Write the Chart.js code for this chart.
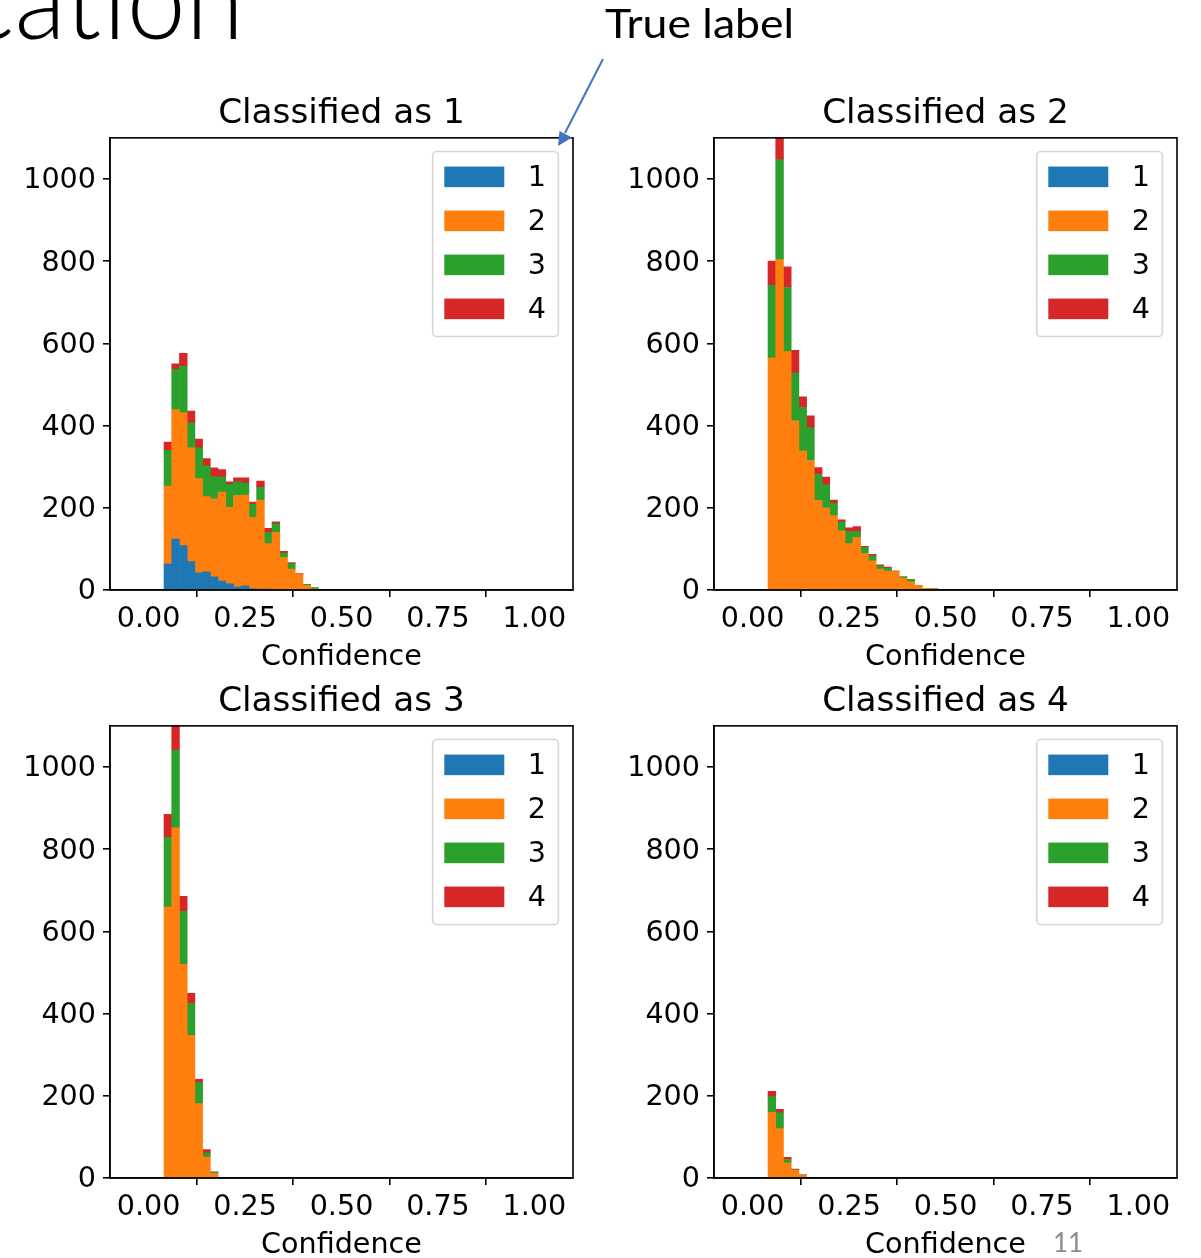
<!DOCTYPE html>
<html>
<head>
<meta charset="utf-8">
<script src="https://cdn.jsdelivr.net/npm/chart.js@4.4.1/dist/chart.umd.min.js"></script>
<style>
html, body { margin: 0; padding: 0; background: #fff; overflow: hidden; }
body { width: 1201px; height: 1258px; position: relative; }
canvas { position: absolute; }
#notes { position: absolute; left: 0; top: 0; pointer-events: none; }
</style>
</head>
<body>
<canvas id="chart1" width="600" height="600" style="left:0;top:80px"></canvas>
<canvas id="chart2" width="600" height="600" style="left:604px;top:80px"></canvas>
<canvas id="chart3" width="600" height="600" style="left:0;top:668px"></canvas>
<canvas id="chart4" width="600" height="600" style="left:604px;top:668px"></canvas>

<svg id="notes" width="1201" height="1258">
  <text x="-352" y="39" font-family="Lato" font-weight="300" font-size="112" textLength="596" lengthAdjust="spacingAndGlyphs" fill="#000">Classification</text>
  <text x="605" y="38" font-family="Lato" font-size="40" textLength="189" lengthAdjust="spacingAndGlyphs" fill="#000">True label</text>
  <line x1="603" y1="59" x2="565" y2="133" stroke="#4472c4" stroke-width="2"/>
  <polygon points="558,146 559.5,131 572,137.5" fill="#4472c4"/>
  <text x="1053" y="1252" font-family="Lato" font-size="26" fill="#8c8c8c">11</text>
</svg>

<script>
console.log("Confidence histograms running");

const FONT = "'DejaVu Sans', sans-serif";

const classLabels = ["1", "2", "3", "4"];
const classColors = ["#1f77b4", "#ff7f0e", "#2ca02c", "#d62728"];

// histogram bins of width 0.02, starting at 0.04
const binCenters = [0.05, 0.07, 0.09, 0.11, 0.13, 0.15, 0.17, 0.19, 0.21, 0.23, 0.25,
                    0.27, 0.29, 0.31, 0.33, 0.35, 0.37, 0.39, 0.41, 0.43, 0.45, 0.47];

const xTicks = [0, 0.25, 0.5, 0.75, 1.0];
const yTicks = [0, 200, 400, 600, 800, 1000];

// Classified as 1 (counts per true label, stacked)
const c1True1 = [63, 124, 108, 69, 42, 44, 32, 22, 15, 7, 10, 3, 2, 1, 0, 0, 0, 0, 0, 0];
const c1True2 = [190, 315, 323, 277, 229, 183, 190, 216, 186, 223, 221, 174, 217, 112, 140, 79, 51, 38, 11, 2];
const c1True3 = [87, 98, 114, 61, 75, 75, 54, 37, 56, 33, 29, 32, 31, 27, 21, 11, 13, 0, 3, 3];
const c1True4 = [20, 13, 31, 28, 21, 18, 21, 18, 6, 10, 13, 5, 15, 10, 5, 4, 3, 2, 0, 0];

// Classified as 2
const c2True1 = [0, 0, 0, 0, 0, 0, 0, 0, 0, 0, 0, 0, 0, 0, 0, 0, 0, 0, 0, 0, 0, 0];
const c2True2 = [564, 804, 580, 412, 338, 315, 218, 200, 181, 144, 113, 128, 89, 71, 51, 46, 45, 29, 20, 10, 4, 3];
const c2True3 = [177, 243, 156, 116, 106, 80, 63, 56, 30, 21, 29, 14, 15, 12, 8, 7, 1, 3, 6, 0, 0, 0];
const c2True4 = [59, 113, 50, 55, 26, 29, 17, 19, 8, 6, 9, 12, 2, 4, 2, 3, 0, 0, 0, 0, 0, 0];

// Classified as 3
const c3True1 = [0, 0, 0, 0, 0, 0, 0];
const c3True2 = [659, 852, 520, 347, 181, 51, 11];
const c3True3 = [170, 189, 129, 78, 51, 10, 3];
const c3True4 = [56, 109, 36, 24, 8, 8, 1];

// Classified as 4
const c4True1 = [0, 0, 0, 0, 0];
const c4True2 = [160, 120, 37, 19, 7];
const c4True3 = [38, 39, 8, 1, 0];
const c4True4 = [13, 8, 5, 2, 1];

// top and right spines, drawn over the bars like matplotlib
const framePlugin = {
    id: "frame",
    afterDatasetsDraw(chart) {
        let ctx = chart.ctx;
        let a = chart.chartArea;
        ctx.save();
        ctx.strokeStyle = "#000";
        ctx.lineWidth = 1.6;
        ctx.strokeRect(a.left, a.top, a.right - a.left, a.bottom - a.top);
        ctx.restore();
    }
};

// matplotlib style legend box in the upper right corner
const legendBoxPlugin = {
    id: "legendBox",
    afterDraw(chart) {
        let ctx = chart.ctx;
        let a = chart.chartArea;
        let w = 125.6, h = 185;
        let bx = a.right - 14.7 - w;
        let by = a.top + 13.7;
        ctx.save();
        ctx.beginPath();
        ctx.roundRect(bx, by, w, h, 4);
        ctx.fillStyle = "rgba(255,255,255,0.8)";
        ctx.fill();
        ctx.strokeStyle = "#d6d6d6";
        ctx.lineWidth = 1.6;
        ctx.stroke();
        ctx.font = "28.6px " + FONT;
        ctx.textBaseline = "middle";
        ctx.textAlign = "left";
        chart.data.datasets.forEach((ds, i) => {
            let sy = by + 15 + i * 44;
            ctx.fillStyle = ds.backgroundColor;
            ctx.fillRect(bx + 11.6, sy, 60, 20.6);
            ctx.fillStyle = "#000";
            ctx.fillText(ds.label, bx + 95, sy + 12);
        });
        ctx.restore();
    }
};

function makeChart(id, title, counts) {
    let datasets = classLabels.map((lab, i) => ({
        label: lab,
        data: counts[i].map((v, k) => ({ x: binCenters[k], y: v })),
        backgroundColor: classColors[i],
        borderWidth: 0,
        barPercentage: 1.0,
        categoryPercentage: 1.0
    }));

    return new Chart(document.getElementById(id), {
        type: "bar",
        data: { datasets: datasets },
        options: {
            responsive: false,
            animation: false,
            layout: { padding: { left: 0, right: 27, top: 0, bottom: 0 } },
            plugins: {
                legend: { display: false },
                tooltip: { enabled: false },
                title: {
                    display: true,
                    text: title,
                    fullSize: false,
                    color: "#000",
                    font: { family: FONT, size: 34.3, weight: "normal", lineHeight: 1.2 },
                    padding: { top: 14, bottom: 2.7 }
                }
            },
            scales: {
                x: {
                    type: "linear",
                    stacked: true,
                    min: -0.1,
                    max: 1.1,
                    offset: false,
                    grid: { drawOnChartArea: false, tickLength: 7, color: "#000", lineWidth: 1.6 },
                    border: { color: "#000", width: 1.6 },
                    ticks: {
                        color: "#000",
                        font: { family: FONT, size: 28.6, lineHeight: 1.2 },
                        padding: 5,
                        maxRotation: 0,
                        autoSkip: false,
                        callback: v => v.toFixed(2)
                    },
                    title: {
                        display: true,
                        text: "Confidence",
                        color: "#000",
                        font: { family: FONT, size: 28.6, lineHeight: 1.2 },
                        padding: { top: 0, bottom: 5 }
                    },
                    afterBuildTicks: s => { s.ticks = xTicks.map(v => ({ value: v })); },
                    afterFit: s => { s.height = 90; s.paddingLeft = 0; s.paddingRight = 0; }
                },
                y: {
                    stacked: true,
                    min: 0,
                    max: 1100,
                    grid: { drawOnChartArea: false, tickLength: 7, color: "#000", lineWidth: 1.6 },
                    border: { color: "#000", width: 1.6 },
                    ticks: {
                        color: "#000",
                        font: { family: FONT, size: 28.6 },
                        padding: 7,
                        labelOffset: 2,
                        callback: v => String(v)
                    },
                    afterBuildTicks: s => { s.ticks = yTicks.map(v => ({ value: v })); },
                    afterFit: s => { s.width = 110; s.paddingTop = 0; s.paddingBottom = 0; }
                }
            }
        },
        plugins: [framePlugin, legendBoxPlugin]
    });
}

makeChart("chart1", "Classified as 1", [c1True1, c1True2, c1True3, c1True4]);
makeChart("chart2", "Classified as 2", [c2True1, c2True2, c2True3, c2True4]);
makeChart("chart3", "Classified as 3", [c3True1, c3True2, c3True3, c3True4]);
makeChart("chart4", "Classified as 4", [c4True1, c4True2, c4True3, c4True4]);
</script>
</body>
</html>
